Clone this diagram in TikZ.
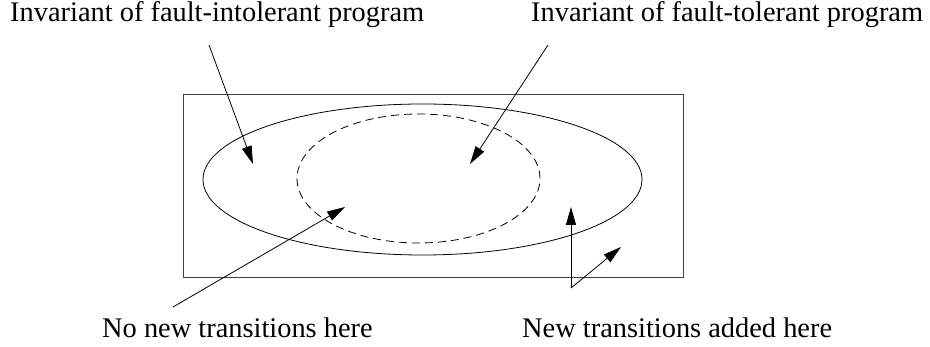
\documentclass[tikz,border=0pt]{standalone}
\usepackage{fontspec}
\setmainfont{Liberation Serif}
\usetikzlibrary{arrows.meta,shapes.geometric}
\tikzset{
  lbl/.style={anchor=base west, inner sep=0pt, font=\fontsize{28.4}{34}\selectfont},
  pointer/.style={-{Triangle[length=18pt,width=10pt]}, line width=0.8pt},
  outline/.style={draw, line width=0.8pt, inner sep=0pt},
}
\begin{document}
\begin{tikzpicture}[x=1pt,y=-1pt]
\useasboundingbox (0,0) rectangle (930,347);
% frame and invariants
\node[outline, draw=black!75, rectangle, minimum width=500pt, minimum height=183pt] (frame) at (433,185.5) {};
\node[outline, ellipse, minimum width=439pt, minimum height=151pt] (intol) at (422.5,179.5) {};
\node[outline, ellipse, dash pattern=on 8pt off 5pt, minimum width=243pt, minimum height=129pt] (tol) at (418.5,178.5) {};
% labels
\node[lbl] (lintol) at (10,22) {Invariant of fault-intolerant program};
\node[lbl] (ltol) at (531,22) {Invariant of fault-tolerant program};
\node[lbl] (lnonew) at (102,338) {No new transitions here};
\node[lbl] (lnew) at (522,338) {New transitions added here};
% arrow endpoints
\coordinate (s1) at (209,45);
\coordinate (t1) at (253,164);
\coordinate (s2) at (548,45);
\coordinate (t2) at (470,164);
\coordinate (s3) at (173,307);
\coordinate (t3) at (345,207);
\coordinate (s4) at (571,288);
\coordinate (t4a) at (571,207);
\coordinate (t4b) at (621,247);
% arrows
\draw[pointer] (s1) -- (t1);
\draw[pointer] (s2) -- (t2);
\draw[pointer] (s3) -- (t3);
\draw[pointer] (s4) -- (t4a);
\draw[pointer] (s4) -- (t4b);
\end{tikzpicture}
\end{document}
